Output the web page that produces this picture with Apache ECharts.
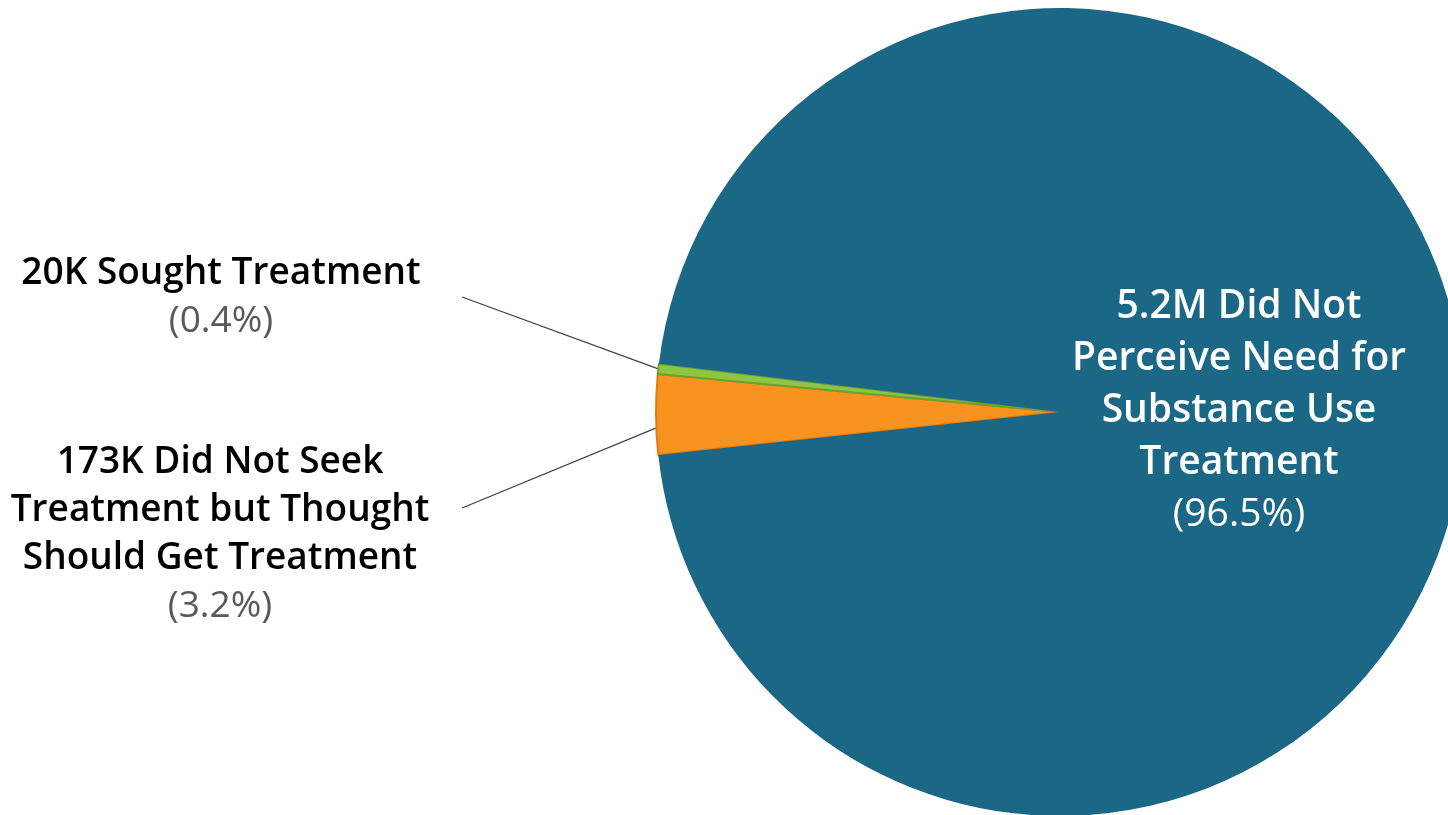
<!DOCTYPE html>
<html>
<head>
<meta charset="utf-8">
<title>Substance Use Treatment Need</title>
<script src="https://cdn.jsdelivr.net/npm/echarts@6/dist/echarts.min.js"></script>
<style>
  html, body { margin: 0; padding: 0; background: #ffffff; }
  #chart { width: 1448px; height: 815px; }
</style>
</head>
<body>
<div id="chart"></div>
<script>
// Slice names (line breaks as set in the labels) and their shares in percent
const categories = [
  '173K Did Not Seek\nTreatment but Thought\nShould Get Treatment',
  '20K Sought Treatment',
  '5.2M Did Not\nPerceive Need for\nSubstance Use\nTreatment'
];
const shares = [3.2, 0.4, 96.5];

const sliceFills = ['#F7931E', '#8DC641', '#1B6886'];
const sliceEdges = ['#E07C12', '#6E9F2F', '#1B6886'];

// Where the outside labels sit and where their leader lines end
const PIE_CENTER = [1060, 412];
const outsideSpots = {
  0: { x: 220, y: 534, lineX: 462, lineY: 508, shiftDeg: 1.9 },
  1: { x: 221, y: 297, lineX: 462, lineY: 297, shiftDeg: 0 }
};

const chart = echarts.init(document.getElementById('chart'), null, { renderer: 'canvas' });

const seriesData = categories.map(function (name, i) {
  const inside = !outsideSpots[i];
  return {
    name: name,
    value: shares[i],
    itemStyle: {
      color: sliceFills[i],
      borderColor: sliceEdges[i],
      borderWidth: inside ? 0 : 2
    },
    label: inside ? {
      position: 'inside',
      color: '#ffffff',
      fontSize: 39,
      lineHeight: 52,
      rich: { p: { color: '#ffffff', fontWeight: 'normal', fontSize: 39, lineHeight: 52, fontFamily: 'Open Sans' } }
    } : {
      position: 'outside',
      color: '#000000',
      fontSize: 37,
      lineHeight: 48,
      rich: { p: { color: '#595959', fontWeight: 'normal', fontSize: 37, lineHeight: 48, fontFamily: 'Open Sans' } }
    },
    labelLine: { show: !inside }
  };
});

function rotateAbout(pt, center, deg) {
  const dx = pt[0] - center[0];
  const dy = center[1] - pt[1];
  const r = Math.sqrt(dx * dx + dy * dy);
  const a = Math.atan2(dy, dx) + deg * Math.PI / 180;
  return [center[0] + r * Math.cos(a), center[1] - r * Math.sin(a)];
}

chart.setOption({
  animation: false,
  backgroundColor: '#ffffff',
  series: [{
    type: 'pie',
    center: PIE_CENTER,
    radius: 404,
    startAngle: 186.1,
    clockwise: true,
    avoidLabelOverlap: false,
    silent: true,
    emphasis: { disabled: true },
    label: {
      show: true,
      fontFamily: 'Open Sans',
      fontWeight: 600,
      align: 'center',
      formatter: function (p) {
        return p.name + '\n{p|(' + p.value.toFixed(1) + '%)}';
      }
    },
    labelLine: {
      length: 10,
      length2: 0,
      lineStyle: { color: '#404040', width: 1.2 }
    },
    labelLayout: function (p) {
      const spot = outsideSpots[p.dataIndex];
      if (!spot) {
        return { dx: -26, dy: -2 };
      }
      const out = { x: spot.x, y: spot.y, align: 'center', verticalAlign: 'middle' };
      if (p.labelLinePoints && p.labelLinePoints.length) {
        const start = rotateAbout(p.labelLinePoints[0], PIE_CENTER, spot.shiftDeg);
        out.labelLinePoints = [start, start, [spot.lineX, spot.lineY]];
      }
      return out;
    },
    data: seriesData
  }]
});
</script>
</body>
</html>
